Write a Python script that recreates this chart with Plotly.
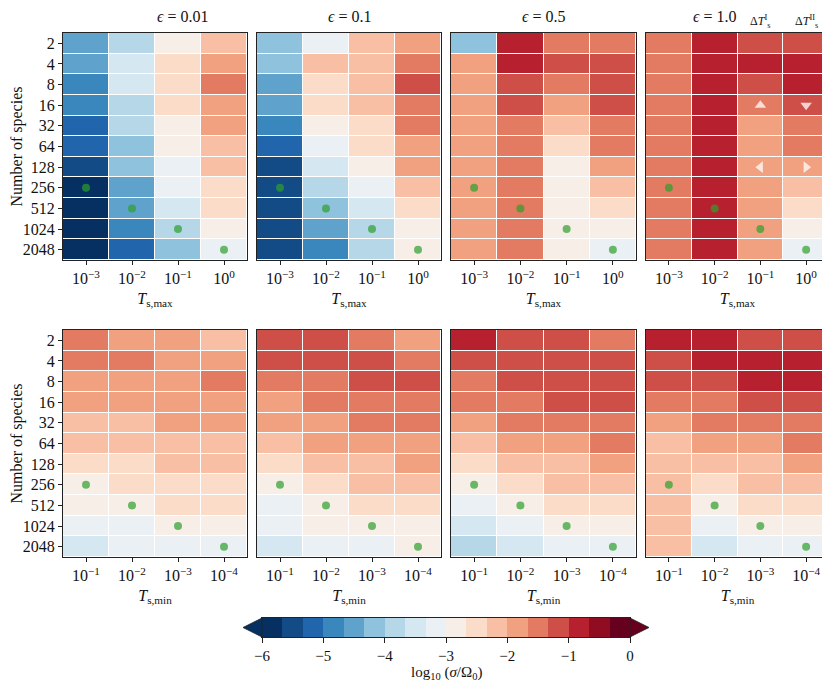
import plotly.graph_objects as go

# species counts (rows) and temperature tick labels (columns)
species = ["2", "4", "8", "16", "32", "64", "128", "256", "512", "1024", "2048"]
tmax_labels = ["10<sup>−3</sup>", "10<sup>−2</sup>", "10<sup>−1</sup>", "10<sup>0</sup>"]
tmin_labels = ["10<sup>−1</sup>", "10<sup>−2</sup>", "10<sup>−3</sup>", "10<sup>−4</sup>"]
eps_titles = ["0.01", "0.1", "0.5", "1.0"]

tmax_eps001 = [[4, 6, 9, 11], [4, 7, 10, 12], [3, 7, 10, 13], [3, 6, 10, 12], [2, 6, 9, 12], [2, 5, 9, 11],
               [1, 5, 8, 11], [0, 4, 8, 10], [0, 4, 7, 10], [0, 3, 6, 9], [0, 2, 5, 8]]
tmax_eps01 = [[5, 8, 11, 12], [5, 11, 11, 13], [4, 10, 11, 14], [4, 10, 11, 13], [3, 9, 10, 13], [2, 8, 10, 12],
              [1, 7, 9, 12], [1, 6, 8, 11], [1, 5, 7, 10], [1, 4, 6, 9], [1, 3, 6, 9]]
tmax_eps05 = [[5, 15, 13, 13], [12, 15, 14, 14], [12, 14, 13, 14], [12, 14, 12, 14], [12, 13, 11, 13], [12, 13, 10, 13],
              [12, 13, 9, 12], [12, 13, 9, 11], [12, 13, 9, 10], [12, 13, 9, 9], [12, 13, 9, 8]]
tmax_eps10 = [[13, 15, 14, 14], [13, 15, 15, 15], [13, 15, 14, 15], [13, 15, 13, 14], [13, 15, 12, 13], [13, 15, 12, 13],
              [13, 15, 12, 12], [13, 15, 12, 11], [13, 15, 12, 10], [13, 15, 12, 9], [13, 15, 12, 8]]
tmin_eps001 = [[13, 12, 12, 11], [13, 13, 12, 12], [12, 12, 12, 13], [12, 12, 12, 12], [11, 11, 12, 12], [11, 11, 11, 11],
               [10, 10, 11, 11], [9, 10, 10, 10], [9, 9, 10, 10], [8, 8, 9, 9], [7, 8, 8, 8]]
tmin_eps01 = [[14, 14, 13, 12], [14, 14, 14, 13], [13, 13, 14, 14], [12, 13, 13, 13], [12, 12, 13, 13], [11, 12, 12, 12],
              [10, 11, 11, 12], [9, 10, 11, 11], [8, 9, 10, 10], [8, 9, 9, 9], [7, 8, 8, 9]]
tmin_eps05 = [[15, 14, 14, 13], [14, 14, 14, 14], [13, 14, 14, 14], [13, 13, 14, 14], [12, 13, 13, 13], [11, 12, 12, 13],
              [10, 11, 11, 12], [9, 10, 11, 11], [8, 9, 10, 10], [7, 8, 9, 9], [6, 7, 8, 8]]
tmin_eps10 = [[15, 15, 14, 14], [14, 15, 15, 15], [14, 14, 15, 15], [13, 13, 14, 14], [12, 13, 13, 13], [11, 12, 12, 13],
              [11, 11, 11, 12], [11, 10, 11, 11], [11, 9, 10, 10], [11, 8, 9, 9], [11, 7, 8, 8]]

# green dots mark the diagonal (column, species row)
dot_cols = [0, 1, 2, 3]
dot_rows = [7, 8, 9, 10]

# discrete RdBu_r, 18 levels
bin_colors = ["#053061", "#134b87", "#2166ac", "#3a87bd", "#5fa3cd", "#8fc2dd", "#b6d7e8", "#d5e7f1", "#ebf0f4",
              "#f8eee8", "#fbdcc9", "#f8bfa4", "#f1a17f", "#e27b62", "#cd4f47", "#b7202f", "#900d21", "#67001f"]
cbar_ticks = [-6, -5, -4, -3, -2, -1, 0]

# the page body adds an 8px margin, so lay out in window pixels and shift
OFF = 8
W, H = 830 - OFF, 681 - OFF
panel_x = [(63, 247), (257, 441), (451, 636), (646, 829)]
panel_y = [(33, 260), (330, 557)]
serif = "Liberation Serif"
line_col = "#222"


def px(x):
    return (x - OFF) / W


def py(y):
    return 1 - (y - OFF) / H


n = len(bin_colors)
colorscale = []
for i, c in enumerate(bin_colors):
    colorscale.append([i / n, c])
    colorscale.append([(i + 1) / n, c])


def level_to_log(v):
    return -6 + (v + 0.5) / 3


fig = go.Figure()
grids = [tmax_eps001, tmax_eps01, tmax_eps05, tmax_eps10, tmin_eps001, tmin_eps01, tmin_eps05, tmin_eps10]

layout = dict()
for k, grid in enumerate(grids):
    r, c = divmod(k, 4)
    ax = "" if k == 0 else str(k + 1)
    z = [[level_to_log(v) for v in row] for row in grid]
    fig.add_trace(go.Heatmap(z=z, x=[0, 1, 2, 3], y=list(range(len(species))), coloraxis="coloraxis",
                             xgap=1, ygap=1, xaxis="x" + ax, yaxis="y" + ax, hoverinfo="skip"))
    fig.add_trace(go.Scatter(x=dot_cols, y=dot_rows, mode="markers", xaxis="x" + ax, yaxis="y" + ax,
                             marker=dict(size=8, color="rgba(44,160,44,0.7)", line=dict(width=0)),
                             showlegend=False, hoverinfo="skip"))
    x0, x1 = panel_x[c]
    y0, y1 = panel_y[r]
    layout["xaxis" + ax] = dict(domain=[px(x0), min(px(x1), 1)], anchor="y" + ax, range=[-0.5, 3.5],
                                automargin=False,
                                tickvals=[0, 1, 2, 3], ticktext=tmax_labels if r == 0 else tmin_labels,
                                showline=True, mirror=True, linecolor=line_col, linewidth=1.2,
                                ticks="outside", ticklen=4, tickcolor=line_col, showgrid=False, zeroline=False,
                                tickfont=dict(size=16), fixedrange=True,
                                title=dict(text="<i>T</i><sub>s,max</sub>" if r == 0 else "<i>T</i><sub>s,min</sub>",
                                           font=dict(size=16), standoff=6))
    layout["yaxis" + ax] = dict(domain=[py(y1), py(y0)], anchor="x" + ax, range=[10.5, -0.5],
                                automargin=False,
                                tickvals=list(range(len(species))), ticktext=species, showticklabels=(c == 0),
                                showline=True, mirror=True, linecolor=line_col, linewidth=1.2,
                                ticks="outside" if c == 0 else "", ticklen=4, tickcolor=line_col,
                                showgrid=False, zeroline=False, tickfont=dict(size=16), fixedrange=True,
                                title=dict(text="Number of species" if c == 0 else "", font=dict(size=16),
                                           standoff=4))

# temperature-step markers in the eps = 1.0 panel
fig.add_trace(go.Scatter(x=[2, 3, 2, 3], y=[3, 3, 6, 6], mode="markers", xaxis="x4", yaxis="y4",
                         marker=dict(size=10, color="rgba(255,255,255,0.75)",
                                     symbol=["triangle-up", "triangle-down", "triangle-left", "triangle-right"]),
                         showlegend=False, hoverinfo="skip"))

# colour bar drawn as its own strip of bins
cb_x0, cb_x1, cb_top, cb_bot, tip = 262, 630, 618, 637, 19
bin_mid = [level_to_log(i) for i in range(n)]
fig.add_trace(go.Heatmap(z=[bin_mid], x=bin_mid, y=[0], coloraxis="coloraxis", xaxis="x9", yaxis="y9",
                         hoverinfo="skip"))
layout["xaxis9"] = dict(domain=[px(cb_x0), px(cb_x1)], anchor="y9", range=[-6, 0], automargin=False,
                        tickvals=cbar_ticks, ticktext=[str(t).replace("-", "−") for t in cbar_ticks],
                        showline=True, mirror=True, linecolor=line_col, linewidth=1,
                        ticks="outside", ticklen=5, tickcolor=line_col, showgrid=False, zeroline=False,
                        tickfont=dict(size=15), fixedrange=True)
layout["yaxis9"] = dict(domain=[py(cb_bot), py(cb_top)], anchor="x9", range=[-0.5, 0.5],
                        automargin=False, showticklabels=False, ticks="", showgrid=False, zeroline=False,
                        showline=True, mirror=True, linecolor=line_col, linewidth=1, fixedrange=True)

ym = (cb_top + cb_bot) / 2
shapes = [
    dict(type="path", xref="paper", yref="paper", fillcolor=bin_colors[0], line=dict(width=0.8, color=line_col),
         path=f"M {px(cb_x0)},{py(cb_top)} L {px(cb_x0 - tip)},{py(ym)} L {px(cb_x0)},{py(cb_bot)} Z"),
    dict(type="path", xref="paper", yref="paper", fillcolor=bin_colors[-1], line=dict(width=0.8, color=line_col),
         path=f"M {px(cb_x1)},{py(cb_top)} L {px(cb_x1 + tip)},{py(ym)} L {px(cb_x1)},{py(cb_bot)} Z"),
]

annotations = []
for c, t in enumerate(eps_titles):
    x0, x1 = panel_x[c]
    annotations.append(dict(text="<i>ϵ</i> = " + t, x=px((x0 + x1) / 2), y=py(17), xref="paper", yref="paper",
                            yanchor="middle", showarrow=False, font=dict(size=16)))
for t, col in [("Δ<i>T</i><sup>I</sup><sub>s</sub>", 2), ("Δ<i>T</i><sup>II</sup><sub>s</sub>", 3)]:
    annotations.append(dict(text=t, x=col, y=-0.5, xref="x4", yref="y4", yanchor="bottom", yshift=1,
                            showarrow=False, font=dict(size=12)))
annotations.append(dict(text="log<sub>10</sub> (<i>σ</i>/Ω<sub>0</sub>)", x=px((cb_x0 + cb_x1) / 2), y=py(673),
                        xref="paper", yref="paper", yanchor="middle", showarrow=False, font=dict(size=15)))

fig.update_layout(
    width=W, height=H, margin=dict(l=0, r=0, t=0, b=0, autoexpand=False),
    paper_bgcolor="white", plot_bgcolor="white",
    font=dict(family=serif, size=16, color="#111"),
    showlegend=False, annotations=annotations, shapes=shapes,
    coloraxis=dict(colorscale=colorscale, cmin=-6, cmax=0, showscale=False),
    **layout,
)

fig.write_html("out.html")
